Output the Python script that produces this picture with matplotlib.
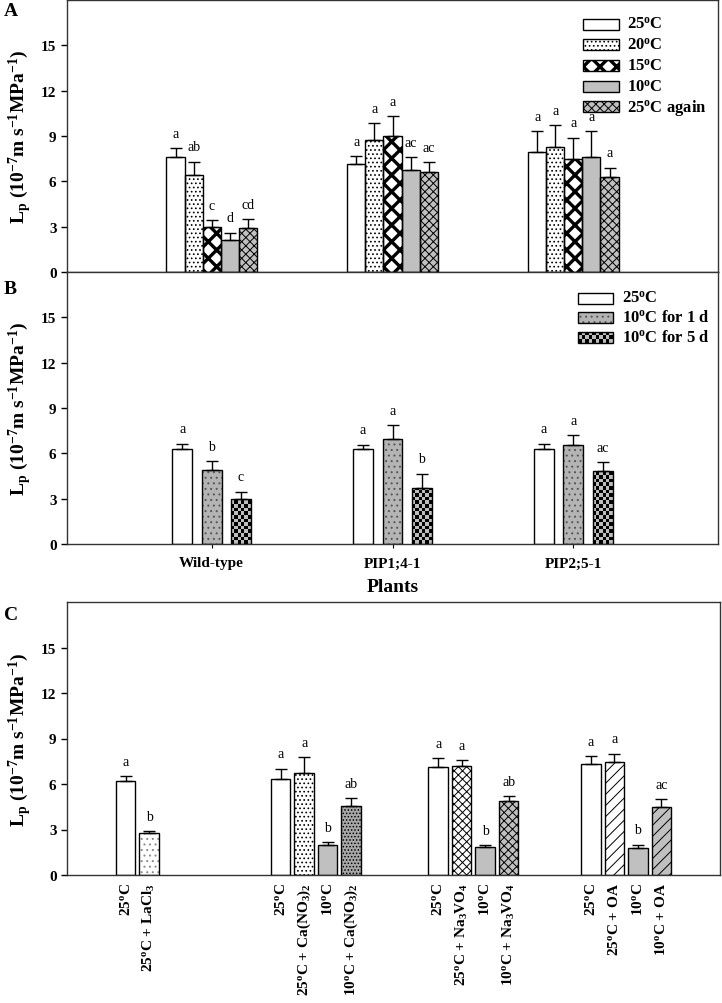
import numpy as np
import matplotlib
matplotlib.use('Agg')
import matplotlib.pyplot as plt
from matplotlib.patches import Rectangle

plt.rcParams['font.family'] = ['Liberation Serif', 'DejaVu Serif']
plt.rcParams['mathtext.fontset'] = 'custom'
plt.rcParams['mathtext.rm'] = 'Liberation Serif'
plt.rcParams['mathtext.bf'] = 'Liberation Serif:bold'
plt.rcParams['mathtext.it'] = 'Liberation Serif:italic'
plt.rcParams['hatch.linewidth'] = 0.7

DEG = r'$^{\mathbf{o}}$'

# ---------------- data ----------------
plants = ['Wild-type', 'PIP1;4-1', 'PIP2;5-1']

# panel A
a_series = ['25' + DEG + 'C', '20' + DEG + 'C', '15' + DEG + 'C', '10' + DEG + 'C', '25' + DEG + 'C again']
a_25 = [7.6, 7.15, 7.95]
a_20 = [6.4, 8.75, 8.25]
a_15 = [2.95, 9.0, 7.5]
a_10 = [2.1, 6.75, 7.6]
a_again = [2.9, 6.6, 6.3]
a_25_err = [0.6, 0.5, 1.35]
a_20_err = [0.9, 1.1, 1.45]
a_15_err = [0.5, 1.3, 1.4]
a_10_err = [0.5, 0.85, 1.7]
a_again_err = [0.6, 0.65, 0.6]
a_25_let = ['a', 'a', 'a']
a_20_let = ['ab', 'a', 'a']
a_15_let = ['c', 'a', 'a']
a_10_let = ['d', 'ac', 'a']
a_again_let = ['cd', 'ac', 'a']

# panel B
b_series = ['25' + DEG + 'C', '10' + DEG + 'C for 1 d', '10' + DEG + 'C for 5 d']
b_25 = [6.3, 6.3, 6.3]
b_1d = [4.92, 6.92, 6.57]
b_5d = [2.95, 3.71, 4.86]
b_25_err = [0.35, 0.27, 0.35]
b_1d_err = [0.58, 0.95, 0.62]
b_5d_err = [0.52, 0.95, 0.57]
b_25_let = ['a', 'a', 'a']
b_1d_let = ['b', 'a', 'a']
b_5d_let = ['c', 'b', 'ac']

# panel C
c1_labels = ['25' + DEG + 'C', '25' + DEG + r'C + LaCl$_\mathbf{3}$']
c1_vals = [6.2, 2.75]
c1_err = [0.3, 0.15]
c1_let = ['a', 'b']

c2_labels = ['25' + DEG + 'C', '25' + DEG + r'C + Ca(NO$_\mathbf{3}$)$_\mathbf{2}$',
             '10' + DEG + 'C', '10' + DEG + r'C + Ca(NO$_\mathbf{3}$)$_\mathbf{2}$']
c2_vals = [6.35, 6.7, 1.95, 4.55]
c2_err = [0.65, 1.05, 0.2, 0.5]
c2_let = ['a', 'a', 'b', 'ab']

c3_labels = ['25' + DEG + 'C', '25' + DEG + r'C + Na$_\mathbf{3}$VO$_\mathbf{4}$',
             '10' + DEG + 'C', '10' + DEG + r'C + Na$_\mathbf{3}$VO$_\mathbf{4}$']
c3_vals = [7.1, 7.2, 1.85, 4.9]
c3_err = [0.6, 0.35, 0.1, 0.3]
c3_let = ['a', 'a', 'b', 'ab']

c4_labels = ['25' + DEG + 'C', '25' + DEG + 'C + OA', '10' + DEG + 'C', '10' + DEG + 'C + OA']
c4_vals = [7.35, 7.45, 1.8, 4.5]
c4_err = [0.5, 0.55, 0.2, 0.5]
c4_let = ['a', 'a', 'b', 'ac']

YLABEL = r'L$_\mathbf{p}$ (10$^{\mathbf{-7}}$m s$^{\mathbf{-1}}$MPa$^{\mathbf{-1}}$)'

# styles: (face, hatch, hatch colour, hatch linewidth, checker)
WHITE = ('white', '', 'black', 0.7, False)
DOTS = ('white', '....', 'black', 0.7, False)
BIGX = ('white', 'xx', 'black', 2.4, False)
GRAY = ('#c0c0c0', '', 'black', 0.7, False)
GRAYX = ('#c0c0c0', 'xxxx', 'black', 0.7, False)
SQUIG = ('#b4b4b4', '...', '#555555', 0.7, False)
CHECK = ('#bdbdbd', '', 'black', 0.7, True)
CHEV = ('white', '...', '#888888', 0.7, False)
GRAYDOT = ('#a8a8a8', '.....', 'black', 0.7, False)
WHITEX = ('white', 'xxxx', 'black', 0.7, False)
DIAG = ('white', '///', 'black', 0.7, False)
GRAYDIAG = ('#c0c0c0', '///', 'black', 0.7, False)


def checker(ax, x0, y0, w, h, nx, sq_h, transform, zorder):
    ax.add_patch(Rectangle((x0, y0), w, h, facecolor='#bdbdbd', edgecolor='none',
                           transform=transform, zorder=zorder))
    sw = w / nx
    ny = int(np.ceil(h / sq_h - 1e-9))
    for i in range(nx):
        for j in range(ny):
            if (i + j) % 2 == 0:
                hh = min(sq_h, h - j * sq_h)
                ax.add_patch(Rectangle((x0 + i * sw, y0 + j * sq_h), sw, hh, facecolor='black',
                                       edgecolor='none', transform=transform, zorder=zorder))


def bars(ax, x, vals, errs, lets, width, style):
    face, hatch, hcol, hlw, chk = style
    x = np.asarray(x, dtype=float)
    if chk:
        for xi, v in zip(x, vals):
            checker(ax, xi - width / 2, 0, width, v, 6, 0.24, ax.transData, 2)
    else:
        cont = ax.bar(x, vals, width, color=face, hatch=hatch, edgecolor=hcol, linewidth=0, zorder=2)
        for p in cont.patches:
            if hasattr(p, 'set_hatch_linewidth'):
                p.set_hatch_linewidth(hlw)
    ax.bar(x, vals, width, fill=False, edgecolor='black', linewidth=1, zorder=3)
    ax.errorbar(x, vals, yerr=[np.zeros(len(vals)), errs], fmt='none', ecolor='black',
                elinewidth=1, capsize=4.5, capthick=1, zorder=4)
    for xi, v, e, t in zip(x, vals, errs, lets):
        ax.text(xi, v + e + 0.75, t, ha='center', va='baseline', fontsize=10)


def legend(ax, labels, styles, x0, y_tops, w, h, tx):
    for lab, st, yt in zip(labels, styles, y_tops):
        face, hatch, hcol, hlw, chk = st
        if chk:
            checker(ax, x0, yt - h, w, h, 10, h / 3, ax.transAxes, 5)
        else:
            r = Rectangle((x0, yt - h), w, h, facecolor=face, hatch=hatch, edgecolor=hcol,
                          linewidth=0, transform=ax.transAxes, zorder=5)
            if hasattr(r, 'set_hatch_linewidth'):
                r.set_hatch_linewidth(hlw)
            ax.add_patch(r)
        ax.add_patch(Rectangle((x0, yt - h), w, h, fill=False, edgecolor='black', linewidth=1,
                               transform=ax.transAxes, zorder=6))
        ax.text(tx, yt - h / 2, lab, transform=ax.transAxes, ha='left', va='center',
                fontsize=12, fontweight='bold')


def style_axis(ax):
    ax.set_ylim(0, 18)
    ax.set_yticks([0, 3, 6, 9, 12, 15])
    ax.tick_params(axis='y', direction='out', length=4, width=1, labelsize=11)
    for lab in ax.get_yticklabels():
        lab.set_fontweight('bold')
    for s in ax.spines.values():
        s.set_linewidth(1)
        s.set_color('#333333')
    ax.set_ylabel(YLABEL, fontsize=14, fontweight='bold', va='center')
    ax.yaxis.set_label_coords(-0.072, 0.5)


W, H = 722, 1004
fig = plt.figure(figsize=(W / 100, H / 100), dpi=100)
axA = fig.add_axes([67 / W, 1 - 273 / H, 651 / W, 272 / H])
axB = fig.add_axes([67 / W, 1 - 545 / H, 651 / W, 272 / H])
axC = fig.add_axes([67 / W, 1 - 876 / H, 653 / W, 273 / H])

# ---- A ----
grp = np.arange(1, len(plants) + 1)
wA = 0.1
a_vals = [a_25, a_20, a_15, a_10, a_again]
a_errs = [a_25_err, a_20_err, a_15_err, a_10_err, a_again_err]
a_lets = [a_25_let, a_20_let, a_15_let, a_10_let, a_again_let]
a_styles = [WHITE, DOTS, BIGX, GRAY, GRAYX]
for i in range(5):
    bars(axA, grp + (i - 2) * wA, a_vals[i], a_errs[i], a_lets[i], wA, a_styles[i])
axA.set_xlim(0.2, 3.8)
axA.set_xticks([])
style_axis(axA)
legend(axA, a_series, a_styles, 0.7926, [1 - (19.5 + 20.7 * i - 1) / 272 for i in range(5)],
       0.0553, 11 / 272, 0.8602)

# ---- B ----
wB = 0.11
b_vals = [b_25, b_1d, b_5d]
b_errs = [b_25_err, b_1d_err, b_5d_err]
b_lets = [b_25_let, b_1d_let, b_5d_let]
b_styles = [WHITE, SQUIG, CHECK]
for i in range(3):
    bars(axB, grp + (i - 1) * 0.1625, b_vals[i], b_errs[i], b_lets[i], wB, b_styles[i])
axB.set_xlim(0.2, 3.8)
axB.set_xticks(grp)
axB.set_xticklabels(plants, fontsize=11, fontweight='bold')
axB.tick_params(axis='x', direction='out', length=3, pad=6)
axB.set_xlabel('Plants', fontsize=14, fontweight='bold', labelpad=6)
style_axis(axB)
legend(axB, b_series, [WHITE, SQUIG, CHECK], 0.785,
       [1 - (293.5 + 19.5 * i - 273) / 272 for i in range(3)], 0.0537, 11 / 272, 0.8525)

# ---- C ----
wC = 0.83
c_starts = [2.5, 9.1, 15.8, 22.3]
c_groups = [
    (c1_labels, c1_vals, c1_err, c1_let, [WHITE, CHEV]),
    (c2_labels, c2_vals, c2_err, c2_let, [WHITE, DOTS, GRAY, GRAYDOT]),
    (c3_labels, c3_vals, c3_err, c3_let, [WHITE, WHITEX, GRAY, GRAYX]),
    (c4_labels, c4_vals, c4_err, c4_let, [WHITE, DIAG, GRAY, GRAYDIAG]),
]
ticks, ticklabels = [], []
for start, (labs, vals, errs, lets, sts) in zip(c_starts, c_groups):
    for k in range(len(vals)):
        bars(axC, [start + k], [vals[k]], [errs[k]], [lets[k]], wC, sts[k])
        ticks.append(start + k)
        ticklabels.append(labs[k])
axC.set_xlim(0, 27.8)
axC.set_xticks(ticks)
axC.set_xticklabels(ticklabels, rotation=90, fontsize=11, fontweight='bold')
axC.tick_params(axis='x', length=0, pad=5)
style_axis(axC)

for t, y in [('A', 12), ('B', 290), ('C', 616)]:
    fig.text(0.005, 1 - y / H, t, fontsize=14, fontweight='bold', va='center', ha='left')

fig.savefig('out.png', dpi=100)
